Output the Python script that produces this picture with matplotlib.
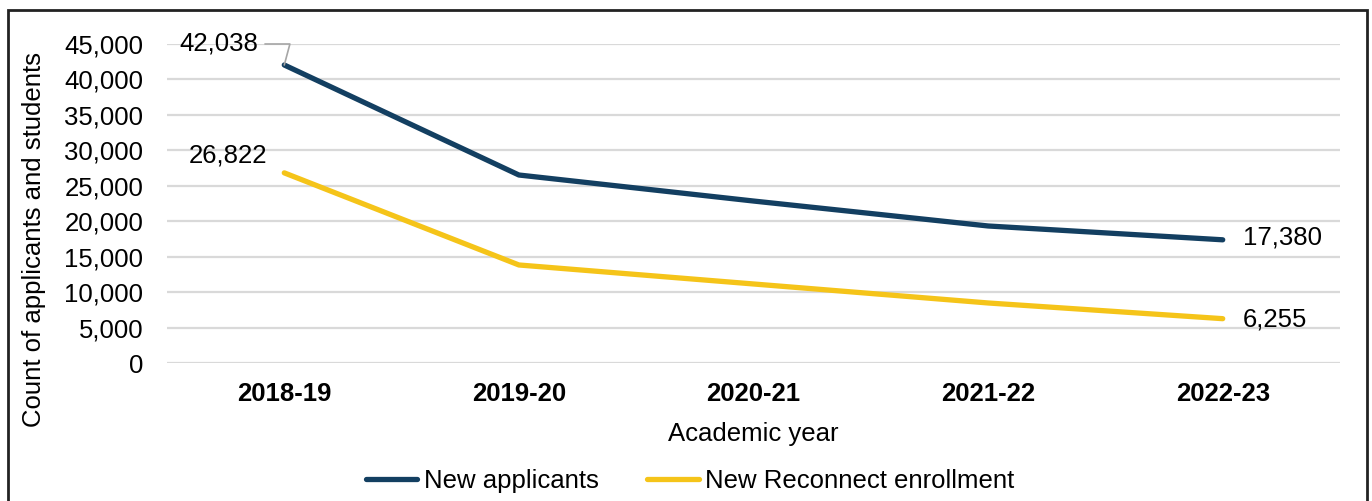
import matplotlib.pyplot as plt
from matplotlib.patches import Rectangle
from matplotlib.ticker import FuncFormatter

plt.rcParams['font.family'] = ['Liberation Sans', 'DejaVu Sans']

years = ['2018-19', '2019-20', '2020-21', '2021-22', '2022-23']
new_applicants = [42038, 26520, 22850, 19330, 17380]
reconnect_enrollment = [26822, 13830, 11150, 8470, 6255]

blue = '#133F61'
yellow = '#F5C419'
fs = 18.5

fig = plt.figure(figsize=(13.72, 5.01), dpi=100)
ax = fig.add_axes([0.1217, 0.2754, 0.8550, 0.6368])

x = range(len(years))
ax.plot(x, new_applicants, color=blue, lw=3.8, solid_capstyle='round', label='New applicants')
ax.plot(x, reconnect_enrollment, color=yellow, lw=3.8, solid_capstyle='round',
        label='New Reconnect enrollment')

ax.set_xlim(-0.5, len(years) - 0.5)
ax.set_ylim(0, 45000)
ax.set_yticks(range(0, 45001, 5000))
ax.yaxis.set_major_formatter(FuncFormatter(lambda v, p: f'{int(v):,}'))
ax.set_xticks(list(x))
ax.set_xticklabels(years, fontweight='bold')
ax.tick_params(axis='both', length=0, labelsize=fs, colors='black')
ax.tick_params(axis='x', pad=14)
ax.tick_params(axis='y', pad=17)
ax.grid(axis='y', color='#D9D9D9', lw=1.6)
ax.set_axisbelow(True)
for s in ax.spines.values():
    s.set_visible(False)

ax.set_xlabel('Academic year', fontsize=fs, labelpad=11)
ax.set_ylabel('Count of applicants and students', fontsize=fs)
ax.yaxis.set_label_coords(-0.103, 0.386)

# data labels
ax.annotate(f'{new_applicants[0]:,}', xy=(0, new_applicants[0]), xytext=(-0.28, 45000),
            ha='center', va='center', fontsize=fs,
            arrowprops=dict(arrowstyle='-', color='#A6A6A6', lw=1.2,
                            connectionstyle='angle,angleA=0,angleB=75,rad=0',
                            shrinkA=3, shrinkB=0,
                            relpos=(1.0, 0.5)))
ax.text(-0.24, 29300, f'{reconnect_enrollment[0]:,}', ha='center', va='center', fontsize=fs)
ax.text(4.085, new_applicants[-1] + 300, f'{new_applicants[-1]:,}', ha='left', va='center', fontsize=fs)
ax.text(4.085, reconnect_enrollment[-1] - 100, f'{reconnect_enrollment[-1]:,}', ha='left', va='center',
        fontsize=fs)

fig.legend(loc='center', bbox_to_anchor=(0.503, 0.04), ncol=2, frameon=False, fontsize=fs,
           handlelength=2.0, columnspacing=1.9, handletextpad=0.25)

# outer frame
fig.patches.append(Rectangle((8 / 1372, -0.05), 1359 / 1372, 1.05 - 10 / 501,
                             transform=fig.transFigure, fill=False, edgecolor='#222222', lw=2))

fig.savefig('out.png', dpi=100)
